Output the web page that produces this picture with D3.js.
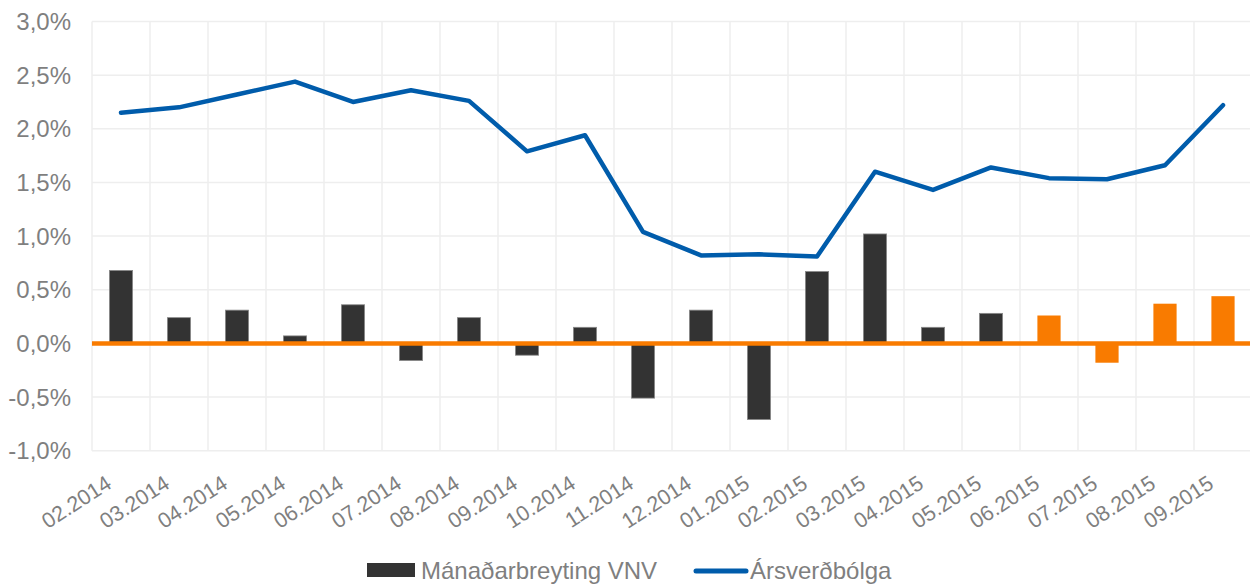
<!DOCTYPE html>
<html>
<head>
<meta charset="utf-8">
<script src="https://cdn.jsdelivr.net/npm/d3@7"></script>
<style>
  body { margin: 0; background: #fff; }
  svg { display: block; font-family: "Liberation Sans", Arial, sans-serif; }
</style>
</head>
<body>
<div id="chart"></div>
<script>
// months on the x axis
var months = ["02.2014", "03.2014", "04.2014", "05.2014", "06.2014", "07.2014", "08.2014",
    "09.2014", "10.2014", "11.2014", "12.2014", "01.2015", "02.2015", "03.2015", "04.2015",
    "05.2015", "06.2015", "07.2015", "08.2015", "09.2015"];

// monthly change in CPI (%)
var monthlyChange = [0.68, 0.24, 0.31, 0.07, 0.36, -0.16, 0.24, -0.11, 0.15, -0.51,
    0.31, -0.71, 0.67, 1.02, 0.15, 0.28, 0.26, -0.18, 0.37, 0.44];

// months drawn in orange (forecast)
var forecastMonths = ["06.2015", "07.2015", "08.2015", "09.2015"];

// annual inflation (%)
var annualInflation = [2.15, 2.20, 2.32, 2.44, 2.25, 2.36, 2.26, 1.79, 1.94, 1.04,
    0.82, 0.83, 0.81, 1.60, 1.43, 1.64, 1.54, 1.53, 1.66, 2.22];

var yTicks = [-1, -0.5, 0, 0.5, 1, 1.5, 2, 2.5, 3];

var seriesNames = ["Mánaðarbreyting VNV", "Ársverðbólga"];

var width = 1250, height = 584;
var plot = { left: 92, right: 1252, top: 21.5, bottom: 450.7 };

var gray = "#7f7f7f", dark = "#333333", orange = "#F97B00", blue = "#005CAB", grid = "#eeeeee";

var locale = d3.formatLocale({ decimal: ",", thousands: ".", grouping: [3], currency: ["", ""], minus: "-" });
var fmt = locale.format(".1f");

var svg = d3.select("#chart")
    .append("svg")
    .attr("width", width)
    .attr("height", height);

var x = d3.scaleBand()
    .domain(months)
    .range([plot.left, plot.right])
    .paddingInner(0.6)
    .paddingOuter(0.3);

var y = d3.scaleLinear()
    .domain([-1, 3])
    .range([plot.bottom, plot.top]);

// horizontal grid
svg.append("g")
    .selectAll("line")
    .data(yTicks)
    .join("line")
    .attr("x1", plot.left)
    .attr("x2", plot.right)
    .attr("y1", function (d) { return y(d); })
    .attr("y2", function (d) { return y(d); })
    .attr("stroke", grid)
    .attr("stroke-width", 1.5);

// vertical grid at category boundaries
var boundaries = months.map(function (m) { return x(m) - x.step() * x.paddingOuter(); });
boundaries.push(plot.right);
svg.append("g")
    .selectAll("line")
    .data(boundaries)
    .join("line")
    .attr("x1", function (d) { return d; })
    .attr("x2", function (d) { return d; })
    .attr("y1", plot.top)
    .attr("y2", plot.bottom)
    .attr("stroke", grid)
    .attr("stroke-width", 1.5);

// y axis labels
svg.append("g")
    .selectAll("text")
    .data(yTicks)
    .join("text")
    .attr("x", 71)
    .attr("y", function (d) { return y(d); })
    .attr("dy", "0.36em")
    .attr("text-anchor", "end")
    .attr("fill", gray)
    .style("font-size", "24px")
    .text(function (d) { return fmt(d) + "%"; });

// x axis labels
svg.append("g")
    .selectAll("text")
    .data(months)
    .join("text")
    .attr("text-anchor", "end")
    .attr("fill", gray)
    .style("font-size", "21.5px")
    .attr("transform", function (d) {
        return "translate(" + (x(d) + x.bandwidth() / 2 - 8) + "," + 487 + ") rotate(-33)";
    })
    .text(function (d) { return d; });

// bars
svg.append("g")
    .selectAll("rect")
    .data(months)
    .join("rect")
    .attr("x", function (d) { return x(d); })
    .attr("width", x.bandwidth())
    .attr("y", function (d, i) { return y(Math.max(0, monthlyChange[i])); })
    .attr("height", function (d, i) { return Math.abs(y(monthlyChange[i]) - y(0)); })
    .attr("fill", function (d) { return forecastMonths.indexOf(d) >= 0 ? orange : dark; })
    .attr("stroke", function (d) { return forecastMonths.indexOf(d) >= 0 ? "none" : "#8a8a8a"; })
    .attr("stroke-width", 0.8);

// zero line
svg.append("line")
    .attr("x1", plot.left)
    .attr("x2", plot.right)
    .attr("y1", y(0))
    .attr("y2", y(0))
    .attr("stroke", orange)
    .attr("stroke-width", 4.5);

// annual inflation line
var line = d3.line()
    .x(function (d, i) { return x(months[i]) + x.bandwidth() / 2; })
    .y(function (d) { return y(d); });

svg.append("path")
    .datum(annualInflation)
    .attr("fill", "none")
    .attr("stroke", blue)
    .attr("stroke-width", 4.5)
    .attr("stroke-linejoin", "round")
    .attr("stroke-linecap", "round")
    .attr("d", line);

// legend
var legend = svg.append("g");
legend.append("rect")
    .attr("x", 367).attr("y", 563)
    .attr("width", 48).attr("height", 14)
    .attr("fill", dark);
legend.append("text")
    .attr("x", 421).attr("y", 579)
    .attr("fill", gray)
    .style("font-size", "24px")
    .text(seriesNames[0]);
legend.append("line")
    .attr("x1", 696).attr("x2", 746)
    .attr("y1", 571).attr("y2", 571)
    .attr("stroke", blue)
    .attr("stroke-width", 5)
    .attr("stroke-linecap", "round");
legend.append("text")
    .attr("x", 750).attr("y", 579)
    .attr("fill", gray)
    .style("font-size", "24px")
    .text(seriesNames[1]);
</script>
</body>
</html>
